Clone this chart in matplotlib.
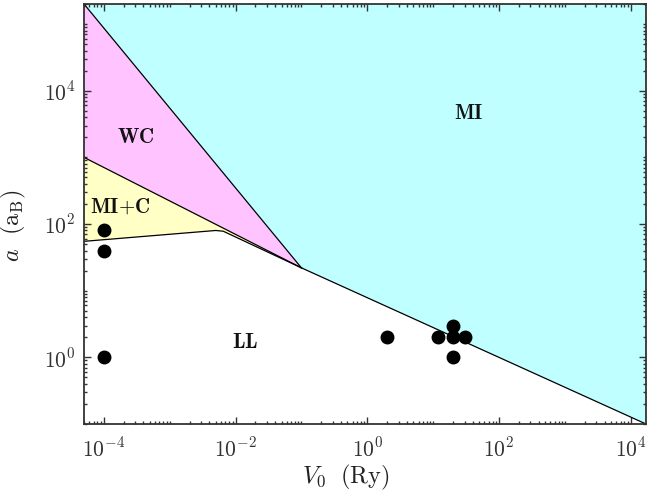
import numpy as np
import matplotlib
matplotlib.use('Agg')
import matplotlib.pyplot as plt
from matplotlib.ticker import FixedLocator, FixedFormatter, LogLocator, NullFormatter

plt.rcParams['mathtext.fontset'] = 'cm'

# axis window
x_min, x_max = 5e-5, 1.7e4
y_min, y_max = 0.1, 2e5

# phase boundaries (V0, a)
junction = (0.1, 22.0)
wc_mi_x = [x_min, junction[0]]
wc_mi_y = [y_max, junction[1]]
mi_ll_x = [junction[0], x_max]
mi_ll_y = [junction[1], y_min]
wc_mic_x = [x_min, junction[0]]
wc_mic_y = [1000.0, junction[1]]
mic_ll_x = [x_min, 0.005, 0.0065, junction[0]]
mic_ll_y = [55.0, 80.0, 78.0, junction[1]]

# measured systems
pts_v0 = [1e-4, 1e-4, 1e-4, 2.0, 12.0, 20.0, 20.0, 20.0, 30.0]
pts_a = [80.0, 40.0, 1.0, 2.0, 2.0, 2.0, 3.0, 1.0, 2.0]

# region names and where they sit
region_names = ['MI', 'WC', 'MI+C', 'LL']
region_x = [35, 3e-4, 1.75e-4, 0.014]
region_y = [4700, 2000, 180, 1.7]

x_major = [1e-4, 1e-2, 1e0, 1e2, 1e4]
x_labels = [r'$10^{-4}$', r'$10^{-2}$', r'$10^{0}$', r'$10^{2}$', r'$10^{4}$']
y_major = [1e0, 1e2, 1e4]
y_labels = [r'$10^{0}$', r'$10^{2}$', r'$10^{4}$']

cyan = '#c0ffff'
pink = '#ffc4ff'
yellow = '#ffffc6'

fig = plt.figure(figsize=(6.48, 4.98), dpi=100)
ax = fig.add_axes([0.1296, 0.1486, 0.8673, 0.8434])
ax.set_xscale('log')
ax.set_yscale('log')
ax.set_xlim(x_min, x_max)
ax.set_ylim(y_min, y_max)

# filled regions
ax.fill(wc_mi_x + mi_ll_x[1:] + [x_max], wc_mi_y + mi_ll_y[1:] + [y_max],
        color=cyan, lw=0, zorder=1)
ax.fill(wc_mi_x + wc_mic_x[::-1], wc_mi_y + wc_mic_y[::-1], color=pink, lw=0, zorder=1)
ax.fill(wc_mic_x + mic_ll_x[::-1], wc_mic_y + mic_ll_y[::-1], color=yellow, lw=0, zorder=1)

for xs, ys in [(wc_mi_x, wc_mi_y), (mi_ll_x, mi_ll_y), (wc_mic_x, wc_mic_y), (mic_ll_x, mic_ll_y)]:
    ax.plot(xs, ys, color='black', lw=0.9, zorder=2)

ax.plot(pts_v0, pts_a, 'o', color='black', ms=9, zorder=3, clip_on=False)

for name, rx, ry in zip(region_names, region_x, region_y):
    ax.text(rx, ry, r'$\mathbf{%s}$' % name.replace('+', '{+}'), fontsize=15,
            ha='center', va='center', color='#111111', zorder=4)

ax.xaxis.set_major_locator(FixedLocator(x_major))
ax.xaxis.set_major_formatter(FixedFormatter(x_labels))
ax.yaxis.set_major_locator(FixedLocator(y_major))
ax.yaxis.set_major_formatter(FixedFormatter(y_labels))
ax.xaxis.set_minor_locator(LogLocator(base=10, subs=np.arange(1, 10), numticks=100))
ax.yaxis.set_minor_locator(LogLocator(base=10, subs=np.arange(1, 10), numticks=100))
ax.xaxis.set_minor_formatter(NullFormatter())
ax.yaxis.set_minor_formatter(NullFormatter())
ax.tick_params(which='both', direction='in', top=True, right=True, width=1.0,
               colors='#333333', labelcolor='#333333')
ax.tick_params(which='major', length=5, labelsize=15.5)
ax.tick_params(axis='x', which='major', pad=9)
ax.tick_params(axis='y', which='major', pad=6)
ax.tick_params(which='minor', length=2.5)
for sp in ax.spines.values():
    sp.set_linewidth(1.3)
    sp.set_color('#333333')
    sp.set_zorder(5)

ax.set_xlabel(r'$V_0\ \ (\mathrm{Ry})$', fontsize=17.5, color='#222222')
ax.set_ylabel(r'$a\ \ (\mathrm{a_B})$', fontsize=17.5, color='#222222')
ax.xaxis.set_label_coords(0.466, -0.093)
ax.yaxis.set_label_coords(-0.1, 0.471)

fig.savefig('out.png', dpi=100)
